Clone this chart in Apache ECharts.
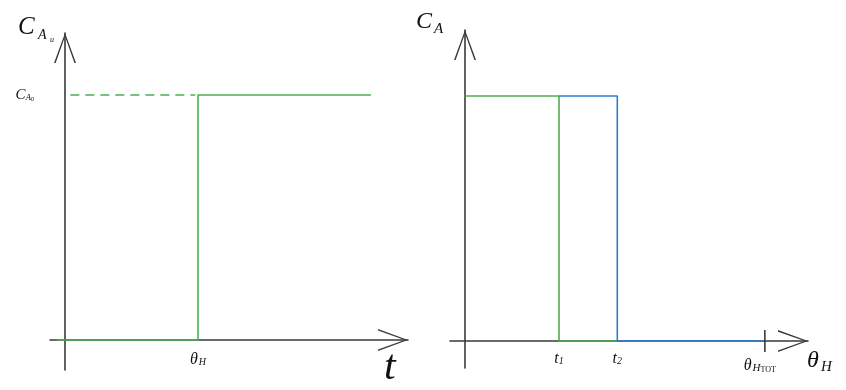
<!DOCTYPE html>
<html><head><meta charset="utf-8">
<script src="https://cdn.jsdelivr.net/npm/echarts@6/dist/echarts.min.js"></script>
<style>html,body{margin:0;padding:0;background:#fff}#c{width:846px;height:390px}</style>
</head><body><div id="c"></div>
<script>
// ---- data (left panel: step input) ----
const leftStep = [[-0.06, 0], [1, 0], [1, 1], [2.3, 1]];
const leftDashed = [[0.04, 1], [0.98, 1]];
const leftTicksX = [1];          // θ_H
const leftTicksY = [1];          // C_A0
// ---- data (right panel: two step-downs) ----
const rightGreen = [[0, 1], [1, 1], [1, 0], [1.62, 0]];
const rightBlue = [[1, 1], [1.62, 1], [1.62, 0], [3.19, 0]];
const rightTicksX = [1, 1.62, 3.19];
const rightTickText = ['{t|t}{s|1}', '{t|t}{s|2}', '{th|θ}{s2|H}{ss|TOT}'];
const rightTotMark = [[3.19, -0.045], [3.19, 0.045]];

const SERIF = 'Liberation Serif';
const AXIS = '#3a3a3a';
const GREEN = '#4caf50';
const BLUE = '#2a7fd4';
const arrow = 'path://M11,0L22,30L20.4,30L11,3.4L1.6,30L0,30Z';

function axisLine() {
  return { show: true, onZero: true, symbol: ['none', arrow], symbolSize: [22, 30], symbolOffset: [0, -15],
    lineStyle: { color: AXIS, width: 1.6 } };
}
const it = (size, extra) => Object.assign({ fontFamily: SERIF, fontStyle: 'italic', fontSize: size, color: '#111' }, extra || {});

const chart = echarts.init(document.getElementById('c'), null, { renderer: 'canvas' });
chart.setOption({
  animation: false,
  backgroundColor: '#fff',
  grid: [
    { left: 50, right: 438, top: 33, bottom: 20, containLabel: false, outerBoundsMode: 'none' },
    { left: 450, right: 38, top: 30, bottom: 22, containLabel: false, outerBoundsMode: 'none' }
  ],
  xAxis: [
    { gridIndex: 0, type: 'value', min: -0.113, max: 2.579, axisLine: axisLine(), axisTick: { show: false }, splitLine: { show: false },
      axisLabel: { customValues: leftTicksX, margin: -18, formatter: () => '{th|θ}{s|H}',
        rich: { th: it(16), s: it(10, { padding: [5, 0, 0, 1] }) } } },
    { gridIndex: 1, type: 'value', min: -0.16, max: 3.649, axisLine: axisLine(), axisTick: { show: false }, splitLine: { show: false },
      axisLabel: { customValues: rightTicksX, margin: -17,
        formatter: (v) => rightTickText[rightTicksX.indexOf(v)] || '',
        rich: { t: it(16), s: it(10, { padding: [5, 0, 0, 0] }), th: it(16, { padding: [6, 0, 0, 0] }),
                s2: it(11, { padding: [11, 0, 0, 1] }), ss: { fontFamily: SERIF, fontSize: 8, color: '#111', padding: [15, 10, 0, 0] } } } }
  ],
  yAxis: [
    { gridIndex: 0, type: 'value', min: -0.1224, max: 1.253, axisLine: axisLine(), axisTick: { show: false }, splitLine: { show: false },
      axisLabel: { customValues: leftTicksY, margin: 16, formatter: () => '{c|C}{a|A}{z|0}',
        rich: { c: it(15), a: it(9, { padding: [5, 0, 0, 0] }), z: { fontFamily: SERIF, fontSize: 6, color: '#111', padding: [9, 0, 0, 0] } } } },
    { gridIndex: 1, type: 'value', min: -0.110, max: 1.269, axisLine: axisLine(), axisTick: { show: false }, splitLine: { show: false },
      axisLabel: { show: false } }
  ],
  series: [
    { type: 'line', xAxisIndex: 0, yAxisIndex: 0, data: leftStep, showSymbol: false, lineStyle: { color: GREEN, width: 1.6 }, z: 3 },
    { type: 'line', xAxisIndex: 0, yAxisIndex: 0, data: leftDashed, showSymbol: false, lineStyle: { color: GREEN, width: 1.6, type: [9, 6] }, z: 3 },
    { type: 'line', xAxisIndex: 1, yAxisIndex: 1, data: rightGreen, showSymbol: false, lineStyle: { color: GREEN, width: 1.6 }, z: 3 },
    { type: 'line', xAxisIndex: 1, yAxisIndex: 1, data: rightBlue, showSymbol: false, lineStyle: { color: BLUE, width: 1.6 }, z: 3 },
    { type: 'line', xAxisIndex: 1, yAxisIndex: 1, data: rightTotMark, showSymbol: false, lineStyle: { color: AXIS, width: 1.6 }, z: 4 }
  ],
  graphic: [
    { type: 'text', left: 18, top: 15, style: { text: 'C', font: 'italic 25px "Liberation Serif"', fill: '#111' } },
    { type: 'text', left: 38, top: 28, style: { text: 'A', font: 'italic 14px "Liberation Serif"', fill: '#111' } },
    { type: 'text', left: 50, top: 36, style: { text: 'u', font: 'italic 8px "Liberation Serif"', fill: '#111' } },
    { type: 'text', left: 384, top: 347, style: { text: 't', font: 'italic 42px "Liberation Serif"', fill: '#111' } },
    { type: 'text', left: 416, top: 10, style: { text: 'C', font: 'italic 24px "Liberation Serif"', fill: '#111' } },
    { type: 'text', left: 434, top: 22, style: { text: 'A', font: 'italic 15px "Liberation Serif"', fill: '#111' } },
    { type: 'text', left: 807, top: 349, style: { text: 'θ', font: 'italic 24px "Liberation Serif"', fill: '#111' } },
    { type: 'text', left: 821, top: 360, style: { text: 'H', font: 'italic 15px "Liberation Serif"', fill: '#111' } }
  ]
});
</script></body></html>
